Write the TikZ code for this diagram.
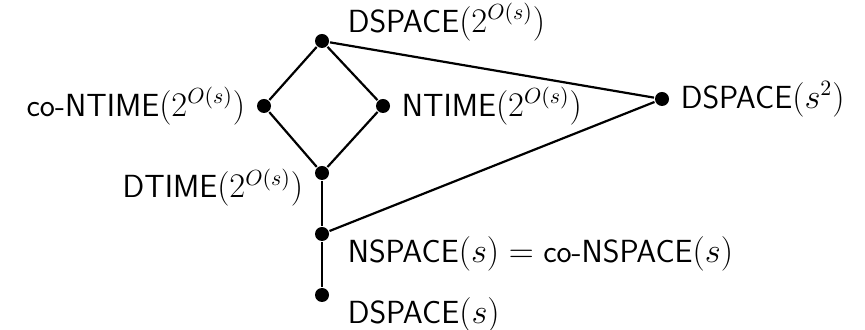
\documentclass[tikz,border=0pt]{standalone}
\usetikzlibrary{positioning}
\begin{document}
\begin{tikzpicture}[node distance=30pt,on grid,line width=1.1pt,
  dot/.style={circle,fill,inner sep=0pt,minimum size=7pt},
  every label/.style={font=\sffamily\fontsize{16}{19}\selectfont,inner sep=4.3pt},
  label distance=0.5pt]
\useasboundingbox (-161pt,20.5pt) rectangle (271.5pt,-144.5pt);
\node[dot,label={[xshift=3.5pt,yshift=9.5pt]right:DSPACE$(2^{O(s)})$}] (dspexp) {};
\node[dot,label=left:co-NTIME$(2^{O(s)})$] (conexp) [below left=32.5pt and 29pt of dspexp] {};
\node[dot,label=right:NTIME$(2^{O(s)})$] (nexp) [below right=32.5pt and 30.5pt of dspexp] {};
\node[dot,label={[yshift=-7.25pt]left:DTIME$(2^{O(s)})$}] (dexp) [below=66pt of dspexp] {};
\node[dot,label={[xshift=3.5pt,yshift=-9.75pt]right:NSPACE$(s)={}$co-NSPACE$(s)$}] (nsp) [below=30.5pt of dexp] {};
\node[dot,label={[xshift=3.5pt,yshift=-10pt]right:DSPACE$(s)$}] (dsp) [below=30.5pt of nsp] {};
\node[dot,label=right:DSPACE$(s^2)$] (dsq) [below right=29pt and 170pt of dspexp] {};
\draw (dspexp) -- (conexp) -- (dexp) -- (nexp) -- (dspexp);
\draw (dexp) -- (nsp) -- (dsp);
\draw (dspexp) -- (dsq) -- (nsp);
\end{tikzpicture}
\end{document}
